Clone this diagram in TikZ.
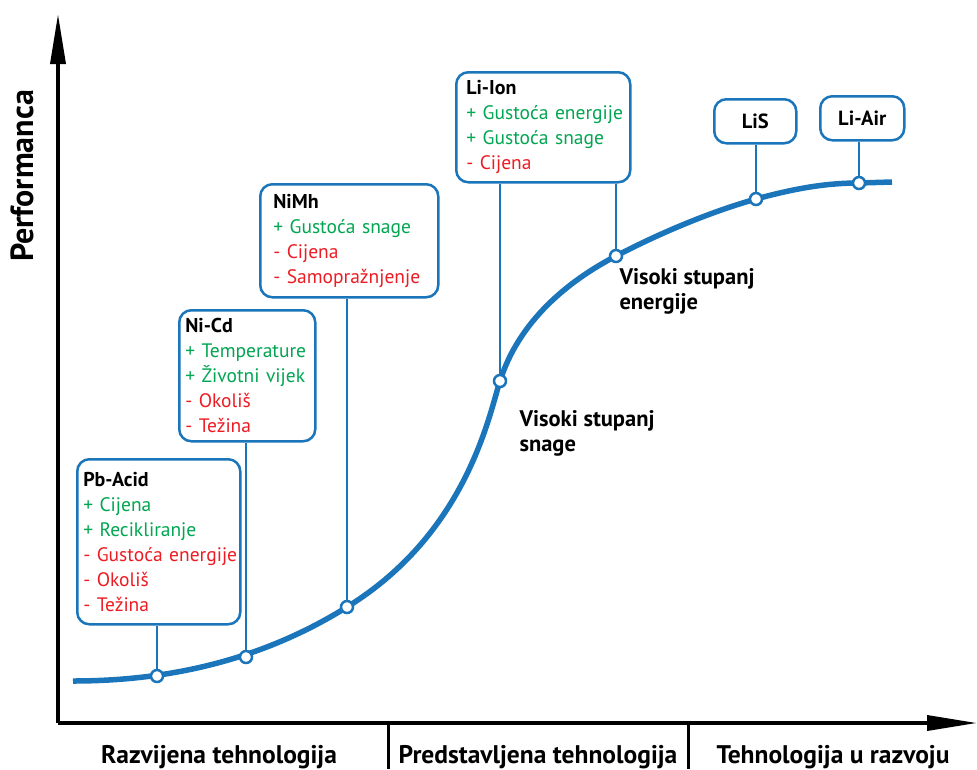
\documentclass[tikz,border=0pt]{standalone}
\usepackage{fontspec}
\setmainfont{PT Sans}
\usepackage{tikz}
\usepackage{xcolor}
\usetikzlibrary{arrows.meta,positioning}

\definecolor{battblue}{HTML}{1B75BB}
\definecolor{plusgreen}{HTML}{00A651}
\definecolor{minusred}{HTML}{ED1C24}
\newcommand{\pro}[1]{\mbox{\textcolor{plusgreen}{+ #1}}}
\newcommand{\con}[1]{\mbox{\textcolor{minusred}{- #1}}}
\newcommand{\battname}[1]{\mbox{\fontsize{20}{25}\selectfont\bfseries #1}}

\tikzset{
  battbox/.style={draw=battblue, line width=2.5pt, rounded corners=12pt, fill=white,
    anchor=north west, align=left, inner xsep=6pt, inner ysep=0pt,
    font=\fontsize{19.5}{25}\selectfont},
  namebox/.style={draw=battblue, line width=2.5pt, rounded corners=12pt, fill=white,
    anchor=north west, minimum width=82pt, minimum height=44pt,
    font=\fontsize{20.5}{22}\selectfont\bfseries},
  stem/.style={draw=battblue, line width=2.5pt},
  dot/.style={circle, draw=battblue, fill=white, line width=2.5pt,
    minimum size=12pt, inner sep=0pt},
  axis/.style={line width=3.5pt, -{Triangle[length=50pt,width=15pt]}},
  phase/.style={anchor=base, font=\fontsize{25.5}{28}\selectfont\bfseries},
  remark/.style={anchor=base west, align=left, font=\fontsize{22.5}{25}\selectfont\bfseries}
}

\begin{document}
\begin{tikzpicture}[x=1pt, y=-1pt]
  \useasboundingbox (0,0) rectangle (977,769);

  % axes
  \coordinate (origin) at (58,723);
  \draw[axis] (origin) -- (58,14);
  \draw[axis] (origin) -- (977,723);
  \node[rotate=90, font=\fontsize{32}{34}\selectfont\bfseries] (perf) at (22,176) {Performanca};
  \foreach \x in {388,688}
    \draw[line width=3pt] (\x,723) -- (\x,769);
  \node[phase] (razv) at (219,763) {Razvijena tehnologija};
  \node[phase] (pred) at (538,763) {Predstavljena tehnologija};
  \node[phase] (tehn) at (833,763) {Tehnologija u razvoju};

  % points on the curve
  \coordinate (pbpt) at (157,676);
  \coordinate (nicdpt) at (246,657);
  \coordinate (nimhpt) at (347,607);
  \coordinate (ionpt) at (500,381);
  \coordinate (energypt) at (616,256);
  \coordinate (lispt) at (756,199);
  \coordinate (airpt) at (859,183);

  % boxes
  \node[battbox, text width=151pt, minimum height=165pt] (pbacid) at (76,458)
    {\battname{Pb-Acid}\\ \pro{Cijena}\\ \pro{Recikliranje}\\ \con{Gustoća energije}\\ \con{Okoliš}\\ \con{Težina}};
  \node[battbox, text width=124pt, minimum height=131pt] (nicd) at (178,309)
    {\battname{Ni-Cd}\\ \pro{Temperature}\\ \pro{Životni vijek}\\ \con{Okoliš}\\ \con{Težina}};
  \node[battbox, inner xsep=13pt, text width=152pt, minimum height=113pt] (nimh) at (259,183)
    {\battname{NiMh}\\ \pro{Gustoća snage}\\ \con{Cijena}\\ \con{Samopražnjenje}};
  \node[battbox, inner xsep=10pt, text width=154pt, minimum height=110pt] (liion) at (455,71)
    {\battname{Li-Ion}\\ \pro{Gustoća energije}\\ \pro{Gustoća snage}\\ \con{Cijena}};
  \node[namebox] (lis) at (713,98) {LiS};
  \node[namebox, minimum width=84pt] (liair) at (819,95) {Li-Air};

  % stems
  \draw[stem] (pbacid.south -| pbpt) -- (pbpt);
  \draw[stem] (nicd.south -| nicdpt) -- (nicdpt);
  \draw[stem] (nimh.south -| nimhpt) -- (nimhpt);
  \draw[stem] (liion.south -| ionpt) -- (ionpt);
  \draw[stem] (liion.south -| energypt) -- (energypt);
  \draw[stem] (lis.south -| lispt) -- (lispt);
  \draw[stem] (liair.south -| airpt) -- (airpt);

  % the curve
  \draw[battblue, line width=5.5pt] (73,681)
    .. controls (180,681) and (270,655) .. (nimhpt)
    .. controls (467,533) and (489,415) .. (ionpt)
    .. controls (519,321) and (568,281) .. (energypt)
    .. controls (660,233) and (710,212) .. (lispt)
    .. controls (800,187) and (830,183) .. (airpt)
    .. controls (875,182) .. (892,182);
  \foreach \p in {pbpt,nicdpt,nimhpt,ionpt,energypt,lispt,airpt}
    \node[dot] at (\p) {};

  \node[remark] (energy) at (616,309) {Visoki stupanj\\energije};
  \node[remark] (power) at (516,451) {Visoki stupanj\\snage};
\end{tikzpicture}
\end{document}
